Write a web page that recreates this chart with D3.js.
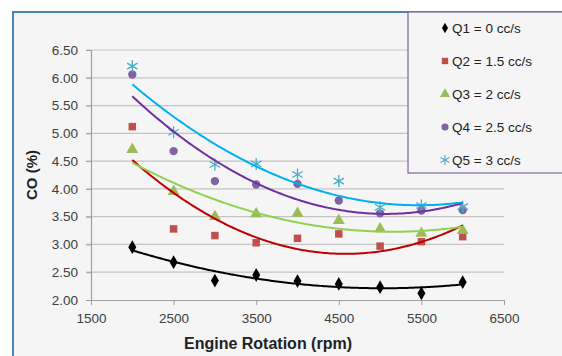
<!DOCTYPE html>
<html><head><meta charset="utf-8">
<script src="https://cdn.jsdelivr.net/npm/d3@7"></script>
<style>body{margin:0;background:#fff;} text{font-family:"Liberation Sans",Arial,sans-serif;}</style>
</head><body>
<svg id="c" width="562" height="356"></svg>
<script>
const rpm = [2000, 2500, 3000, 3500, 4000, 4500, 5000, 5500, 6000];
const q1 = [2.95, 2.68, 2.35, 2.45, 2.34, 2.29, 2.23, 2.12, 2.32];
const q2 = [5.12, 3.28, 3.16, 3.03, 3.11, 3.19, 2.97, 3.05, 3.14];
const q3 = [4.71, 3.95, 3.50, 3.55, 3.56, 3.43, 3.28, 3.20, 3.25];
const q4 = [6.06, 4.68, 4.14, 4.08, 4.09, 3.79, 3.56, 3.61, 3.62];
const q5 = [6.21, 5.02, 4.44, 4.45, 4.26, 4.14, 3.67, 3.70, 3.68];
const seriesNames = ["Q1 = 0 cc/s", "Q2 = 1.5 cc/s", "Q3 = 2 cc/s", "Q4 = 2.5 cc/s", "Q5 = 3 cc/s"];
const xTicks = [1500, 2500, 3500, 4500, 5500, 6500];
const yTicks = [2.0, 2.5, 3.0, 3.5, 4.0, 4.5, 5.0, 5.5, 6.0, 6.5];

const series = [
  {name: seriesNames[0], vals: q1, marker: "diamond", mcol: "#000000", lcol: "#000000"},
  {name: seriesNames[1], vals: q2, marker: "square", mcol: "#c0504d", lcol: "#c00000"},
  {name: seriesNames[2], vals: q3, marker: "triangle", mcol: "#9bbb59", lcol: "#92d050"},
  {name: seriesNames[3], vals: q4, marker: "circle", mcol: "#8064a2", lcol: "#7030a0"},
  {name: seriesNames[4], vals: q5, marker: "star", mcol: "#4bacc6", lcol: "#00b0f0"}
];

const svg = d3.select("#c");
svg.append("rect").attr("x", 13).attr("y", 12).attr("width", 620).attr("height", 400)
  .attr("fill", "#f5f5f5").attr("stroke", "#4f81bd").attr("stroke-width", 2);

const x = d3.scaleLinear().domain([1500, 6500]).range([91, 504]);
const y = d3.scaleLinear().domain([2, 6.5]).range([300, 50]);

svg.append("g").selectAll("line").data(yTicks.filter(t => t > 2)).join("line")
  .attr("x1", 86).attr("x2", 504).attr("y1", d => y(d)).attr("y2", d => y(d))
  .attr("stroke", "#c4c4c4").attr("stroke-width", 1.2);

const ya = svg.append("g").attr("transform", "translate(91,0)")
  .call(d3.axisLeft(y).tickValues(yTicks).tickFormat(d3.format(".2f")).tickSize(5).tickPadding(8));
ya.select(".domain").attr("stroke", "#a0a0a0").attr("stroke-width", 1.2);
ya.selectAll(".tick line").attr("stroke", "#a0a0a0");
ya.selectAll("text").attr("font-size", 13.5).attr("fill", "#404040").attr("font-family", "Liberation Sans, Arial, sans-serif");

const xa = svg.append("g").attr("transform", "translate(0,300)")
  .call(d3.axisBottom(x).tickValues(xTicks).tickFormat(d3.format("d")).tickSize(5).tickSizeOuter(0).tickPadding(8));
xa.select(".domain").attr("stroke", "#a0a0a0").attr("stroke-width", 1.2);
xa.selectAll(".tick line").attr("stroke", "#a0a0a0");
xa.selectAll("text").attr("font-size", 13.5).attr("fill", "#404040").attr("font-family", "Liberation Sans, Arial, sans-serif");

svg.append("text").attr("x", 268).attr("y", 349).attr("text-anchor", "middle")
  .attr("font-size", 16).attr("font-weight", "bold").attr("fill", "#222").text("Engine Rotation (rpm)");
svg.append("text").attr("transform", "translate(37,175) rotate(-90)").attr("text-anchor", "middle")
  .attr("font-size", 15).attr("font-weight", "bold").attr("fill", "#222").text("CO (%)");

function fitQuad(xs, ys) {
  const n = xs.length, m = d3.mean(xs), s = 1000;
  const u = xs.map(v => (v - m) / s);
  let S = [0,0,0,0,0], T = [0,0,0];
  for (let i = 0; i < n; i++) {
    let p = 1;
    for (let k = 0; k < 5; k++) { S[k] += p; p *= u[i]; }
    T[0] += ys[i]; T[1] += ys[i]*u[i]; T[2] += ys[i]*u[i]*u[i];
  }
  const A = [[S[0],S[1],S[2],T[0]],[S[1],S[2],S[3],T[1]],[S[2],S[3],S[4],T[2]]];
  for (let i = 0; i < 3; i++) {
    for (let j = i+1; j < 3; j++) {
      const f = A[j][i]/A[i][i];
      for (let k = i; k < 4; k++) A[j][k] -= f*A[i][k];
    }
  }
  const c = [0,0,0];
  for (let i = 2; i >= 0; i--) {
    let sum = A[i][3];
    for (let k = i+1; k < 3; k++) sum -= A[i][k]*c[k];
    c[i] = sum / A[i][i];
  }
  return v => { const t = (v - m)/s; return c[0] + c[1]*t + c[2]*t*t; };
}

function markerPath(type) {
  if (type === "diamond") return d3.symbol(d3.symbolDiamond, 55)();
  if (type === "square") return d3.symbol(d3.symbolSquare, 56)();
  if (type === "triangle") return d3.symbol(d3.symbolTriangle, 62)();
  if (type === "circle") return d3.symbol(d3.symbolCircle, 55)();
  const r = 6, a = r*0.866, b = r*0.5;
  return `M0,${-r}L0,${r}M${-a},${-b}L${a},${b}M${-a},${b}L${a},${-b}`;
}

const line = d3.line().x(d => x(d[0])).y(d => y(d[1]));
const samples = d3.range(2000, 6001, 25);

series.forEach(s => {
  svg.append("g").selectAll("path").data(rpm.map((r, i) => [r, s.vals[i]])).join("path")
    .attr("transform", d => `translate(${x(d[0])},${y(d[1])})`)
    .attr("d", markerPath(s.marker))
    .attr("fill", s.marker === "star" ? "none" : s.mcol)
    .attr("stroke", s.marker === "star" ? s.mcol : "none")
    .attr("stroke-width", 1.3);
});
series.forEach(s => {
  const f = fitQuad(rpm, s.vals);
  svg.append("path").datum(samples.map(v => [v, f(v)]))
    .attr("d", line).attr("fill", "none").attr("stroke", s.lcol).attr("stroke-width", 2);
});

svg.append("rect").attr("x", 408).attr("y", 12).attr("width", 200).attr("height", 161)
  .attr("fill", "#f5f5f5").attr("stroke", "#8064a2").attr("stroke-width", 1.2);
const lg = svg.append("g").selectAll("g").data(series).join("g")
  .attr("transform", (d, i) => `translate(445,${28 + i*33})`);
lg.append("path").attr("d", d => markerPath(d.marker))
  .attr("transform", d => d.marker === "diamond" ? "scale(0.75)" : "scale(0.85)")
  .attr("fill", d => d.marker === "star" ? "none" : d.mcol)
  .attr("stroke", d => d.marker === "star" ? d.mcol : "none").attr("stroke-width", 1.3);
lg.append("text").attr("x", 7).attr("y", 0).attr("dy", "0.35em")
  .attr("font-size", 13.5).attr("fill", "#222").text(d => d.name);
</script>
</body></html>
